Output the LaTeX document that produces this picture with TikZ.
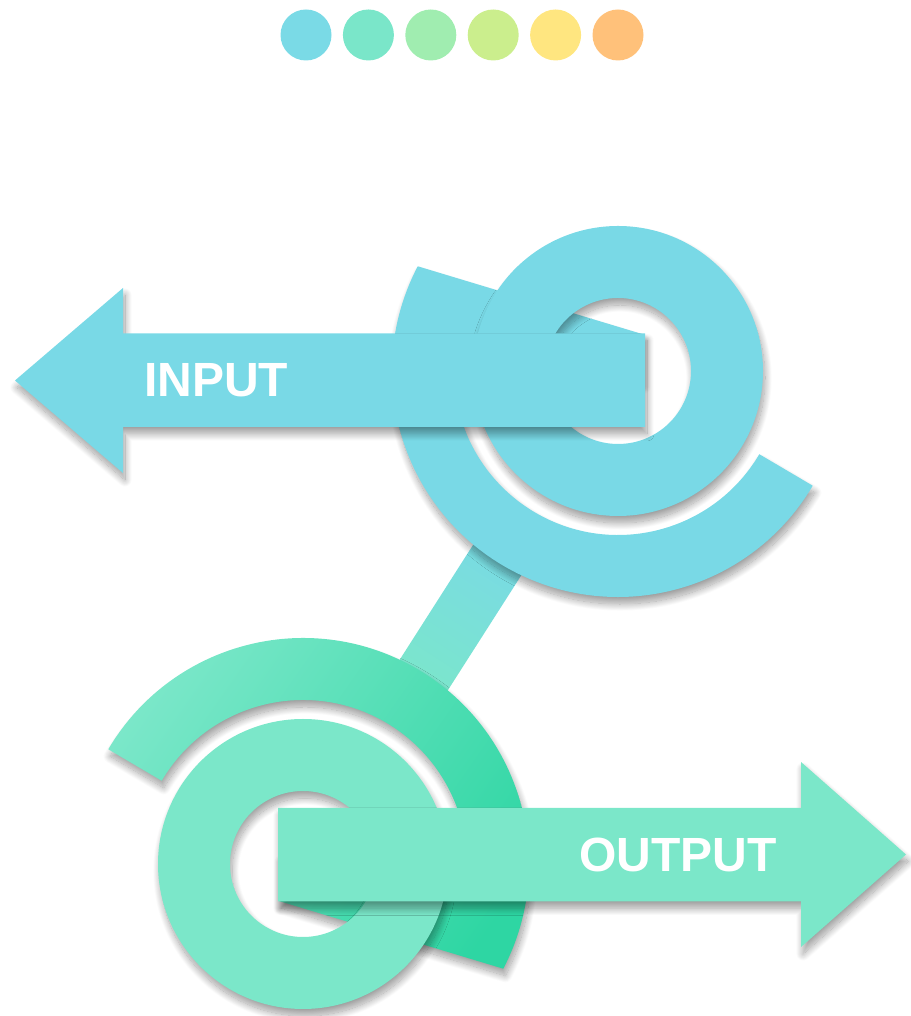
\documentclass[tikz,border=0pt]{standalone}
\usepackage{fontspec}
\setmainfont{Liberation Sans}
\usetikzlibrary{calc,shadows.blur}
\definecolor{inblue}{HTML}{79D9E6}
\definecolor{outmint}{HTML}{7BE7C9}
\definecolor{outdeep}{HTML}{2ED6A3}
\definecolor{dotA}{HTML}{7ADAE6}
\definecolor{dotB}{HTML}{7AE6C9}
\definecolor{dotC}{HTML}{A0EDB0}
\definecolor{dotD}{HTML}{CBEE8D}
\definecolor{dotE}{HTML}{FFE680}
\definecolor{dotF}{HTML}{FFC17A}
\begin{document}
\begin{tikzpicture}[x=1pt,y=1pt,
  lbl/.style={text=white,font=\bfseries\fontsize{48}{48}\selectfont,inner sep=0pt},
  soft/.style={blur shadow={shadow xshift=2pt,shadow yshift=-7pt,shadow blur radius=7pt,shadow blur steps=20,shadow opacity=38}}]
\useasboundingbox (0,0) rectangle (910,1016);

\foreach \n/\c in {0/dotA,1/dotB,2/dotC,3/dotD,4/dotE,5/dotF}
\node[circle,fill=\c,minimum size=51pt,inner sep=0pt] (d\n) at (306+62.4*\n,981) {};

\coordinate (inC) at (618,645);
\coordinate (outC) at (303,152);

% stem between the two rings
\shade[top color=inblue,bottom color=outmint,shading angle=-32.5]
  ($(inC)!0.32!(outC)!28.5pt!90:(outC)$) -- ($(inC)!0.32!(outC)!28.5pt!-90:(outC)$)
  -- ($(outC)!0.32!(inC)!28.5pt!90:(inC)$) -- ($(outC)!0.32!(inC)!28.5pt!-90:(inC)$) -- cycle;

% input side
\begin{scope}[shift={(inC)}]
\fill[inblue,soft] (152.4:226) arc[start angle=152.4,end angle=329.5,radius=226]
  -- (329.5:164) arc[start angle=329.5,end angle=185,radius=164] -- (24,-9) -- (24,37) -- cycle;
\fill[inblue,soft] (145,0) arc[start angle=0,end angle=360,radius=145] -- cycle
  (73,0) arc[start angle=360,end angle=0,radius=73] -- cycle;
\fill[inblue,soft] (-603,-9.5) -- (-495,83) -- (-495,37.5) -- (27,37.5) -- (27,-56)
  -- (-495,-56) -- (-495,-102) -- cycle;
\node[lbl,anchor=west] (inLbl) at (-474,-9.5) {INPUT};
\end{scope}

% output side
\begin{scope}[shift={(outC)}]
\shade[left color=outmint,right color=outdeep,shading angle=55,soft] (332.4:226) arc[start angle=332.4,end angle=509.5,radius=226]
  -- (149.5:164) arc[start angle=149.5,end angle=5,radius=164] -- (-24,9) -- (-24,-37) -- cycle;
\fill[outmint,soft] (145,0) arc[start angle=0,end angle=360,radius=145] -- cycle
  (73,0) arc[start angle=360,end angle=0,radius=73] -- cycle;
\fill[outmint,soft] (603,9.5) -- (498,102) -- (498,56) -- (-25,56) -- (-25,-37.5)
  -- (498,-37.5) -- (498,-83) -- cycle;
\node[lbl,anchor=east] (outLbl) at (474,9) {OUTPUT};
\end{scope}
\end{tikzpicture}
\end{document}
